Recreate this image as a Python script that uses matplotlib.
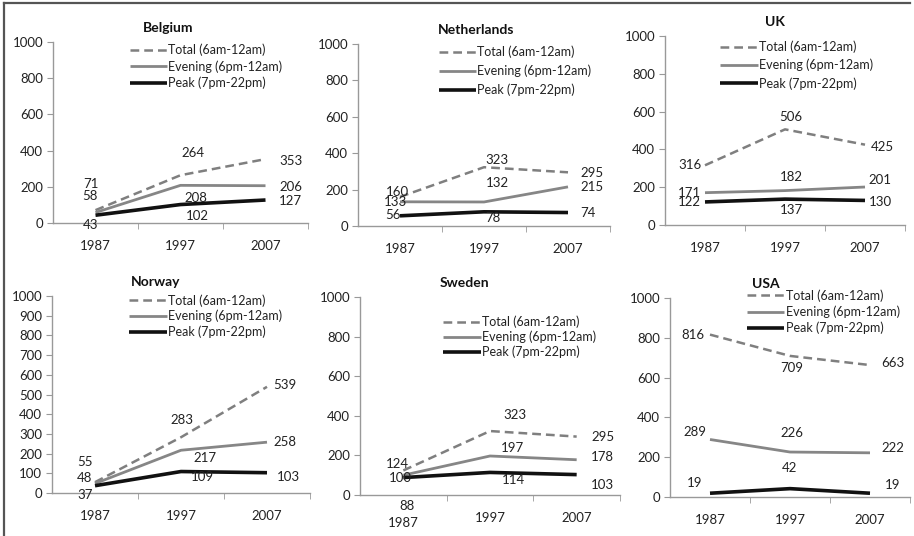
import numpy as np
import matplotlib
matplotlib.use("Agg")
import matplotlib.pyplot as plt
from matplotlib.lines import Line2D
from matplotlib.transforms import ScaledTranslation

plt.rcParams['font.family'] = ['Lato', 'DejaVu Sans']

years = ['1987', '1997', '2007']
series_names = ['Total (6am-12am)', 'Evening (6pm-12am)', 'Peak (7pm-22pm)']

belgium_total = [71, 264, 353]
belgium_evening = [58, 208, 206]
belgium_peak = [43, 102, 127]

netherlands_total = [160, 323, 295]
netherlands_evening = [133, 132, 215]
netherlands_peak = [56, 78, 74]

uk_total = [316, 506, 425]
uk_evening = [171, 182, 201]
uk_peak = [122, 137, 130]

norway_total = [55, 283, 539]
norway_evening = [48, 217, 258]
norway_peak = [37, 109, 103]

sweden_total = [124, 323, 295]
sweden_evening = [100, 197, 178]
sweden_peak = [88, 114, 103]

usa_total = [816, 709, 663]
usa_evening = [289, 226, 222]
usa_peak = [19, 42, 19]

countries = ['Belgium', 'Netherlands', 'UK', 'Norway', 'Sweden', 'USA']
data = {
    'Belgium': (belgium_total, belgium_evening, belgium_peak),
    'Netherlands': (netherlands_total, netherlands_evening, netherlands_peak),
    'UK': (uk_total, uk_evening, uk_peak),
    'Norway': (norway_total, norway_evening, norway_peak),
    'Sweden': (sweden_total, sweden_evening, sweden_peak),
    'USA': (usa_total, usa_evening, usa_peak),
}

# layout, pixels: left, right, top, bottom of each plot area
W, H = 914, 536
boxes = {
    'Belgium': (53, 308, 42, 223),
    'Netherlands': (358, 610, 44, 226),
    'UK': (665, 905, 36, 225),
    'Norway': (52, 310, 296, 493),
    'Sweden': (360, 620, 297, 495),
    'USA': (670, 910, 298, 497),
}
title_x = {'Belgium': 0.45, 'Netherlands': 0.47, 'UK': 0.46,
           'Norway': 0.40, 'Sweden': 0.40, 'USA': 0.40}
legend_pos = {'Belgium': (0.30, 0.99), 'Netherlands': (0.32, 0.99), 'UK': (0.23, 0.975),
              'Norway': (0.30, 1.01), 'Sweden': (0.32, 0.905), 'USA': (0.32, 1.045)}
legend_spacing = {'Belgium': 0.3, 'Netherlands': 0.5, 'UK': 0.45,
                  'Norway': 0.25, 'Sweden': 0.2, 'USA': 0.3}

# label offsets in pixels (dx right, dy down) per series, per year
label_off = {
    'Belgium': [[(-5, -26), (12, -22), (25, 2)],
                [(-6, -17), (15, 13), (25, 1)],
                [(-5, 10), (17, 11), (25, 1)]],
    'Netherlands': [[(-3, -5), (13, -7), (24, 1)],
                    [(-5, 0), (13, -19), (24, 0)],
                    [(-7, -1), (9, 6), (20, 0)]],
    'UK': [[(-15, 0), (6, -12), (17, 2)],
           [(-16, 0), (6, -14), (15, -7)],
           [(-16, 0), (6, 11), (15, 2)]],
    'Norway': [[(-10, -20), (1, -17), (18, -2)],
               [(-10, -6), (24, 8), (18, 0)],
               [(-10, 9), (21, 5), (21, 4)]],
    'Sweden': [[(-6, -6), (25, -16), (26, 0)],
               [(-3, 3), (22, -8), (26, -3)],
               [(4, 28), (23, 8), (26, 10)]],
    'USA': [[(-17, 0), (2, 12), (23, -2)],
            [(-15, -7), (2, -19), (23, -5)],
            [(-15, -10), (0, -21), (23, -8)]],
}

styles = [dict(color='#7f7f7f', lw=1.8, ls=(0, (3.5, 2))),
          dict(color='#868686', lw=2.0, ls='-'),
          dict(color='#111111', lw=2.6, ls='-')]

fig = plt.figure(figsize=(W / 100, H / 100), dpi=100)
x = np.arange(len(years))

for c in countries:
    l, r, t, b = boxes[c]
    ax = fig.add_axes([l / W, 1 - b / H, (r - l) / W, (b - t) / H])
    for vals, st, name, offs in zip(data[c], styles, series_names, label_off[c]):
        ax.plot(x, vals, label=name, solid_capstyle='butt', dash_capstyle='butt', **st)
        for xi, v, (dx, dy) in zip(x, vals, offs):
            ax.annotate(str(v), (xi, v), xytext=(dx, -dy), textcoords='offset pixels',
                        ha='center', va='center', fontsize=9.5, color='#222222')
    ax.set_xlim(-0.5, 2.5)
    ax.set_ylim(0, 1000)
    ax.set_xticks(x)
    ax.set_xticklabels(years)
    ax.set_xticks([0.5, 1.5, 2.5], minor=True)
    ax.tick_params(axis='x', which='major', length=0, pad=12, labelsize=9.5, labelcolor='#222222')
    ax.tick_params(axis='x', which='minor', length=4, color='#999999', direction='out')
    if c == 'Norway':
        ax.set_yticks(np.arange(0, 1001, 100))
    else:
        ax.set_yticks(np.arange(0, 1001, 200))
    ax.tick_params(axis='y', length=4, color='#999999', labelsize=9.5, labelcolor='#222222', pad=3)
    for s in ['top', 'right']:
        ax.spines[s].set_visible(False)
    for s in ['left', 'bottom']:
        ax.spines[s].set_color('#999999')
        ax.spines[s].set_linewidth(1.0)
    ax.set_title(c, fontsize=10, fontweight='bold', x=title_x[c], pad=7, color='#111111')
    ax.legend(loc='upper left', bbox_to_anchor=legend_pos[c], frameon=False,
              fontsize=9, handlelength=3.0, handletextpad=0.1, borderpad=0,
              borderaxespad=0, labelspacing=legend_spacing[c], labelcolor='#222222')
    ax.patch.set_alpha(0)
    if c == 'Sweden':
        # the first year label sits a little lower, under the "88" label
        lbl = ax.get_xticklabels()[0]
        lbl.set_transform(lbl.get_transform() + ScaledTranslation(0, -0.05, fig.dpi_scale_trans))

# scanned frame: top and left edges
fig.add_artist(Line2D([4 / W, 910 / W], [1 - 2.5 / H, 1 - 2.5 / H], color='#555555', lw=1.6))
fig.add_artist(Line2D([4 / W, 4 / W], [0, 1 - 2.5 / H], color='#555555', lw=1.6))

fig.savefig('out.png', dpi=100)
